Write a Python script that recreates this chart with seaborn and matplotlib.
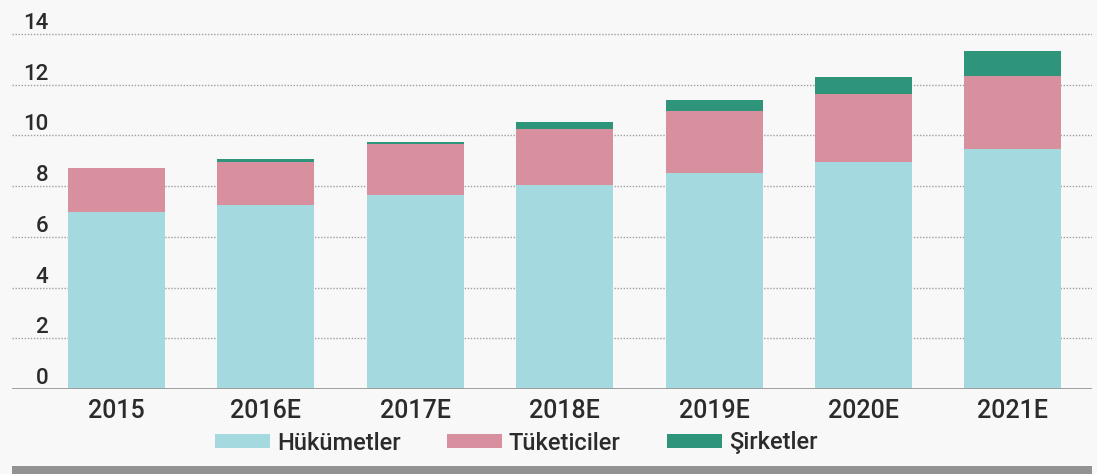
import matplotlib
matplotlib.use("Agg")
import matplotlib.pyplot as plt
from matplotlib.patches import Patch, Rectangle
import numpy as np
import pandas as pd
import seaborn as sns

years = ["2015", "2016E", "2017E", "2018E", "2019E", "2020E", "2021E"]
hukumetler = [7.0, 7.25, 7.65, 8.05, 8.5, 8.95, 9.45]
tuketiciler = [1.7, 1.7, 2.0, 2.2, 2.45, 2.7, 2.9]
sirketler = [0.0, 0.12, 0.1, 0.27, 0.45, 0.65, 0.97]
y_ticks = [0, 2, 4, 6, 8, 10, 12, 14]

series_names = ["Hükümetler", "Tüketiciler", "Şirketler"]
colors = ["#a4d9df", "#d88f9e", "#2f957a"]
bg = "#f8f8f8"
text_color = "#2b2b2b"

sns.set_theme(style="white")
plt.rcParams["font.family"] = ["Roboto", "DejaVu Sans"]
plt.rcParams["font.weight"] = "medium"

df = pd.DataFrame({"year": years, "H": hukumetler, "T": tuketiciler, "S": sirketler})
df["HT"] = df["H"] + df["T"]
df["HTS"] = df["HT"] + df["S"]

W, H = 1097, 474
fig = plt.figure(figsize=(W / 100, H / 100), dpi=100, facecolor=bg)
ax_left, ax_right = 12 / W, 1092 / W
ax_bottom = (H - 389) / H
ymax = 14.5
px_per_unit = (389 - 34) / 14
ax_top = (H - (389 - ymax * px_per_unit)) / H
ax = fig.add_axes([ax_left, ax_bottom, ax_right - ax_left, ax_top - ax_bottom])
ax.set_facecolor(bg)

# stacked layers drawn from the full total downwards
for col, c in zip(["HTS", "HT", "H"], colors[::-1]):
    sns.barplot(data=df, x="year", y=col, color=c, width=0.65,
                saturation=1, ax=ax, zorder=3, linewidth=0)

ax.set_xlim(-0.70, 6.53)
ax.set_ylim(0, ymax)
ax.set_xlabel("")
ax.set_ylabel("")

ax.set_yticks(y_ticks)
ax.set_yticklabels([str(v) for v in y_ticks])
ax.yaxis.grid(True, linestyle=(0, (1, 1.2)), color="#a0a0a0", linewidth=1.0, zorder=0)
ax.xaxis.grid(False)
ax.set_axisbelow(True)
for s in ax.spines.values():
    s.set_visible(False)
ax.axhline(0, color="#9a9a9a", linewidth=1.3, zorder=4)

ax.tick_params(axis="y", length=0, pad=-26, labelsize=16, labelcolor=text_color)
for lbl in ax.get_yticklabels():
    lbl.set_horizontalalignment("right")
    lbl.set_verticalalignment("bottom")
ax.tick_params(axis="x", length=0, pad=7, labelsize=18, labelcolor=text_color)

handles = [Patch(facecolor=c, edgecolor="none") for c in colors]
fig.legend(handles, series_names, loc="center left",
           bbox_to_anchor=(215 / W, (H - 443) / H), ncol=3, frameon=False,
           prop={"size": 17, "weight": "medium"},
           handlelength=2.33, handleheight=0.55, handletextpad=0.3,
           columnspacing=1.95, borderpad=0, borderaxespad=0, labelcolor=text_color)

fig.patches.append(Rectangle((12 / W, 0), (1092 - 12) / W, 8 / H,
                             transform=fig.transFigure, facecolor="#929292",
                             edgecolor="none"))

fig.savefig("out.png", dpi=100, facecolor=bg)
